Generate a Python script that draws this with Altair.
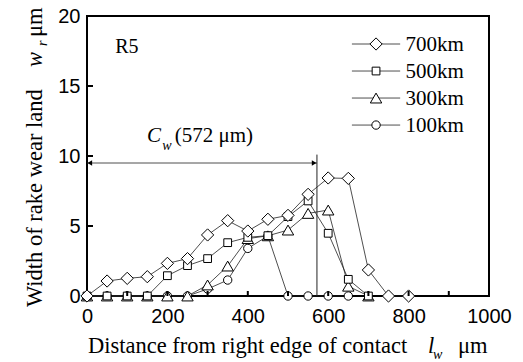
import altair as alt
import pandas as pd

# ---------------- data ----------------
x_700 = [0, 50, 100, 150, 200, 250, 300, 350, 400, 450, 500, 550, 600, 650, 700, 750, 800]
y_700 = [0, 1.07, 1.26, 1.38, 2.33, 2.67, 4.36, 5.38, 4.64, 5.48, 5.76, 7.26, 8.43, 8.40, 1.86, 0, 0]

x_500 = [0, 50, 100, 150, 200, 250, 300, 350, 400, 450, 500, 550, 600, 650, 700]
y_500 = [0, 0, 0, 0, 1.45, 2.17, 2.67, 3.81, 4.19, 4.31, 5.67, 6.79, 4.48, 1.19, 0]

x_300 = [0, 50, 100, 150, 200, 250, 300, 350, 400, 450, 500, 550, 600, 650, 700]
y_300 = [0, 0, 0, 0, 0, 0, 0.79, 2.14, 4.1, 4.3, 4.71, 5.9, 6.14, 0.7, 0]

x_100 = [0, 50, 100, 150, 200, 250, 300, 350, 400, 450, 500, 550, 600, 650]
y_100 = [0, 0, 0, 0, 0, 0, 0.5, 1.14, 3.4, 4.29, 0, 0, 0, 0]

series_names = ["700km", "500km", "300km", "100km"]
series_shapes = ["diamond", "square", "triangle-up", "circle"]
series_sizes = [150, 60, 130, 70]

x_tick_labels = [0, 200, 400, 600, 800, 1000]
x_minor_ticks = [100, 200, 300, 400, 500, 600, 700, 800, 900]
y_tick_labels = [0, 5, 10, 15, 20]
y_inner_ticks = [5, 10, 15]

cw_value = 572
cw_arrow_level = 9.5
cw_line_top = 10.1

# ---------------- tables ----------------
series_data = {
    "700km": (x_700, y_700),
    "500km": (x_500, y_500),
    "300km": (x_300, y_300),
    "100km": (x_100, y_100),
}
style = {n: (s, z) for n, s, z in zip(series_names, series_shapes, series_sizes)}

xscale = alt.Scale(domain=[0, 1000], nice=False, zero=False)
yscale = alt.Scale(domain=[0, 20], nice=False, zero=False)

x_axis = alt.Axis(values=x_tick_labels, title=None, ticks=False, grid=False, domain=False,
                  labelFont="Liberation Sans", labelFontSize=20, labelPadding=10,
                  labelColor="black", labelFlush=False, format="d")
y_axis = alt.Axis(values=y_tick_labels, title=None, ticks=False, grid=False, domain=False,
                  labelFont="Liberation Sans", labelFontSize=20, labelPadding=7,
                  labelColor="black", labelFlush=False, format="d")


def X(f="x"):
    return alt.X(f"{f}:Q", scale=xscale, axis=x_axis)


def Y(f="y"):
    return alt.Y(f"{f}:Q", scale=yscale, axis=y_axis)


layers = []

# lines first (all series), then markers drawn 100 -> 700
for name in ["100km", "300km", "500km", "700km"]:
    xs, ys = series_data[name]
    d = pd.DataFrame({"x": xs, "y": ys})
    layers.append(alt.Chart(d).mark_line(color="#222222", strokeWidth=0.8).encode(
        x=X(), y=Y(), order="x:Q"))

for name in ["100km", "300km", "500km", "700km"]:
    xs, ys = series_data[name]
    d = pd.DataFrame({"x": xs, "y": ys})
    shp, sz = style[name]
    layers.append(alt.Chart(d).mark_point(shape=shp, size=sz, filled=True, fill="white",
                                          stroke="black", strokeWidth=1, opacity=1,
                                          fillOpacity=1).encode(x=X(), y=Y()))

# manual legend (positions in data units, top-right of plot)
leg_y0, leg_step = 18.0, 1.93
for i, name in enumerate(series_names):
    shp, sz = style[name]
    ly = leg_y0 - i * leg_step
    d = pd.DataFrame({"x": [659], "x2": [779], "xs": [719], "xt": [792], "y": [ly], "t": [name]})
    layers.append(alt.Chart(d).mark_rule(color="#222222", strokeWidth=0.8).encode(
        x=X(), x2="x2:Q", y=Y()))
    layers.append(alt.Chart(d).mark_point(shape=shp, size=sz, filled=True, fill="white",
                                          stroke="black", strokeWidth=1, opacity=1,
                                          fillOpacity=1).encode(x=X("xs"), y=Y()))
    layers.append(alt.Chart(d).mark_text(font="Liberation Serif", fontSize=21, align="left",
                                         baseline="middle", color="black", dy=1).encode(
        x=X("xt"), y=Y(), text="t:N"))

# inward ticks
xt_df = pd.DataFrame({"x": x_minor_ticks})
layers.append(alt.Chart(xt_df).mark_rule(color="black", strokeWidth=2).encode(
    x=X(), y=alt.value(280), y2=alt.value(275)))
yt_df = pd.DataFrame({"y": y_inner_ticks})
layers.append(alt.Chart(yt_df).mark_rule(color="black", strokeWidth=2).encode(
    y=Y(), x=alt.value(0), x2=alt.value(6)))

# Cw annotation
arrow_df = pd.DataFrame({"x": [0], "x2": [cw_value], "y": [cw_arrow_level]})
layers.append(alt.Chart(arrow_df).mark_rule(color="#222222", strokeWidth=0.8).encode(
    x=X(), x2="x2:Q", y=Y()))
vline_df = pd.DataFrame({"x": [cw_value], "y": [0], "y2": [cw_line_top]})
layers.append(alt.Chart(vline_df).mark_rule(color="#222222", strokeWidth=1).encode(
    x=X(), y=Y(), y2="y2:Q"))
for hx, hs in [(7, "triangle-left"), (cw_value - 7, "triangle-right")]:
    hd = pd.DataFrame({"x": [hx], "y": [cw_arrow_level]})
    layers.append(alt.Chart(hd).mark_point(shape=hs, size=28, filled=True, color="black",
                                           opacity=1).encode(x=X(), y=Y()))


def dtext(txt, xv, yv, fs, italic=False):
    kw = dict(font="Liberation Serif", fontSize=fs, align="left", baseline="alphabetic",
              color="black")
    if italic:
        kw["fontStyle"] = "italic"
    d = pd.DataFrame({"x": [xv], "y": [yv], "t": [txt]})
    return alt.Chart(d).mark_text(**kw).encode(x=X(), y=Y(), text="t:N")


layers += [
    dtext("R5", 70, 17.36, 20),
    dtext("C", 149, 11.0, 21, italic=True),
    dtext("w", 187, 10.43, 14, italic=True),
    dtext("(572 μm)", 218, 11.0, 21),
]

# axis titles as text (pixel positions relative to plot origin)
one = pd.DataFrame({"a": [0]})


def ptext(txt, px, py, fs=22.5, italic=False, angle=0):
    kw = dict(font="Liberation Serif", fontSize=fs, align="left", baseline="alphabetic",
              color="black", text=txt)
    if italic:
        kw["fontStyle"] = "italic"
    if angle:
        kw["angle"] = angle
    return alt.Chart(one).mark_text(**kw).encode(x=alt.value(px), y=alt.value(py))


layers += [
    ptext("Width of rake wear land", -45, 291, angle=270),
    ptext("w", -45, 51, italic=True, angle=270),
    ptext("r", -40, 30, fs=14, italic=True, angle=270),
    ptext("μm", -45, 21, angle=270),
    ptext("Distance from right edge of contact", 1, 337),
    ptext("l", 341, 337, italic=True),
    ptext("w", 346, 343, fs=14, italic=True),
    ptext("μm", 371, 337),
]

chart = alt.layer(*layers).properties(
    width=402, height=280,
    autosize=alt.AutoSizeParams(type="none"),
    padding={"left": 87, "top": 16, "right": 34, "bottom": 66},
    background="white",
).configure_view(stroke="black", strokeWidth=2)

chart.save("out.html", embed_options={"renderer": "svg", "actions": False})
